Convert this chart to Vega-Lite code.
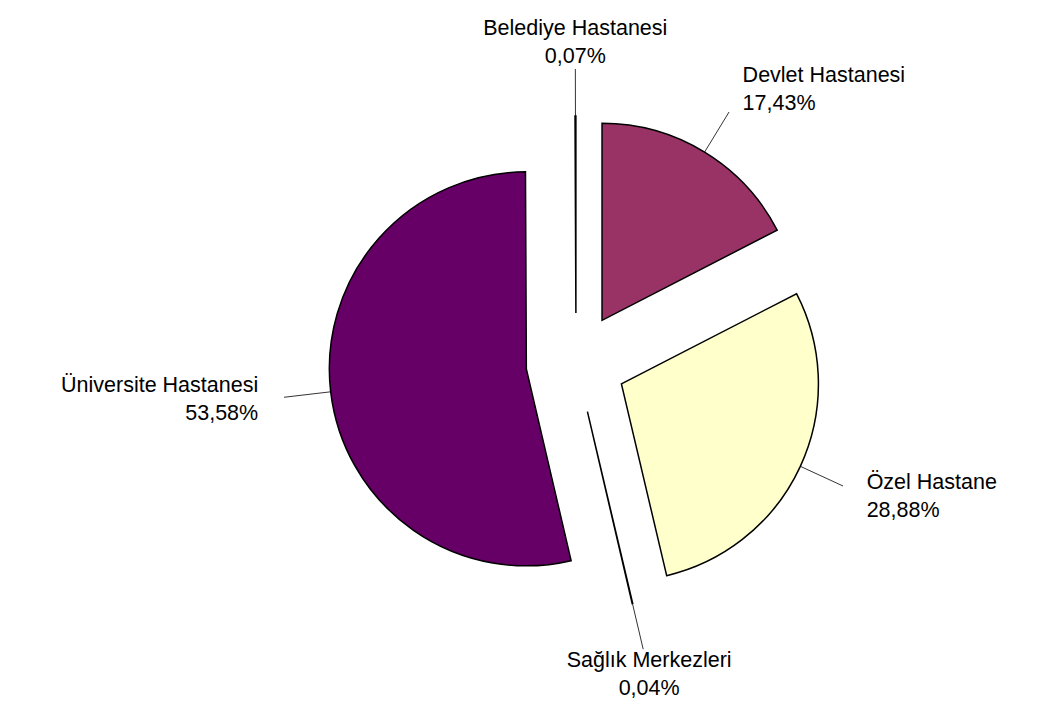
{
  "$schema": "https://vega.github.io/schema/vega-lite/v6.json",
  "width": 1052,
  "height": 726,
  "autosize": {"type": "fit", "contains": "padding"},
  "padding": {"left": 100, "right": 0, "top": 0, "bottom": 0},
  "background": "white",
  "view": {"stroke": null},
  "config": {
    "locale": {"number": {"decimal": ",", "thousands": ".", "grouping": [3], "currency": ["", " TL"]}},
    "text": {"font": "Liberation Sans", "fontSize": 21.5, "color": "black"}
  },
  "data": {
    "values": [
      {"kurum": "Devlet Hastanesi", "pay": 0.1743, "sira": 1},
      {"kurum": "Özel Hastane", "pay": 0.2888, "sira": 2},
      {"kurum": "Sağlık Merkezleri", "pay": 0.0004, "sira": 3},
      {"kurum": "Üniversite Hastanesi", "pay": 0.5358, "sira": 4},
      {"kurum": "Belediye Hastanesi", "pay": 0.0007, "sira": 5}
    ]
  },
  "layer": [
    {
      "mark": {
        "type": "arc",
        "radius": 197,
        "stroke": "black",
        "strokeWidth": 1.5,
        "xOffset": {"expr": "50*sin(PI*(datum.pay_start+datum.pay_end))"},
        "yOffset": {"expr": "-50*cos(PI*(datum.pay_start+datum.pay_end))"}
      },
      "encoding": {
        "theta": {"field": "pay", "type": "quantitative", "stack": true, "scale": {"domain": [0, 1]}},
        "order": {"field": "sira", "type": "ordinal"},
        "color": {
          "field": "kurum",
          "type": "nominal",
          "legend": null,
          "scale": {
            "domain": ["Belediye Hastanesi", "Devlet Hastanesi", "Özel Hastane", "Sağlık Merkezleri", "Üniversite Hastanesi"],
            "range": ["#9999FF", "#993366", "#FFFFCC", "#CCFFFF", "#660066"]
          }
        }
      }
    },
    {
      "transform": [
        {"stack": "pay", "groupby": [], "sort": [{"field": "sira", "order": "ascending"}], "as": ["bas", "son"]}
      ],
      "mark": {"type": "rule", "stroke": "black", "strokeWidth": 0.8},
      "encoding": {
        "x": {"value": {"expr": "width/2 + 247*sin(PI*(datum.bas+datum.son))"}},
        "y": {"value": {"expr": "height/2 - 247*cos(PI*(datum.bas+datum.son))"}},
        "x2": {"value": {"expr": "width/2 + 294*sin(PI*(datum.bas+datum.son))"}},
        "y2": {"value": {"expr": "height/2 - 294*cos(PI*(datum.bas+datum.son))"}}
      }
    },
    {
      "mark": {
        "type": "text",
        "radius": 270,
        "dy": -14,
        "baseline": "middle",
        "align": {"expr": "sin(PI*(datum.pay_start+datum.pay_end)) > 0.5 ? 'left' : (sin(PI*(datum.pay_start+datum.pay_end)) < -0.5 ? 'right' : 'center')"},
        "xOffset": {"expr": "50*sin(PI*(datum.pay_start+datum.pay_end))"},
        "yOffset": {"expr": "-50*cos(PI*(datum.pay_start+datum.pay_end))"}
      },
      "encoding": {
        "theta": {"field": "pay", "type": "quantitative", "stack": true, "scale": {"domain": [0, 1]}},
        "order": {"field": "sira", "type": "ordinal"},
        "text": {"field": "kurum", "type": "nominal"}
      }
    },
    {
      "mark": {
        "type": "text",
        "radius": 270,
        "dy": 14,
        "baseline": "middle",
        "align": {"expr": "sin(PI*(datum.pay_start+datum.pay_end)) > 0.5 ? 'left' : (sin(PI*(datum.pay_start+datum.pay_end)) < -0.5 ? 'right' : 'center')"},
        "xOffset": {"expr": "50*sin(PI*(datum.pay_start+datum.pay_end))"},
        "yOffset": {"expr": "-50*cos(PI*(datum.pay_start+datum.pay_end))"}
      },
      "encoding": {
        "theta": {"field": "pay", "type": "quantitative", "stack": true, "scale": {"domain": [0, 1]}},
        "order": {"field": "sira", "type": "ordinal"},
        "text": {"field": "pay", "type": "quantitative", "format": ".2%"}
      }
    }
  ]
}
